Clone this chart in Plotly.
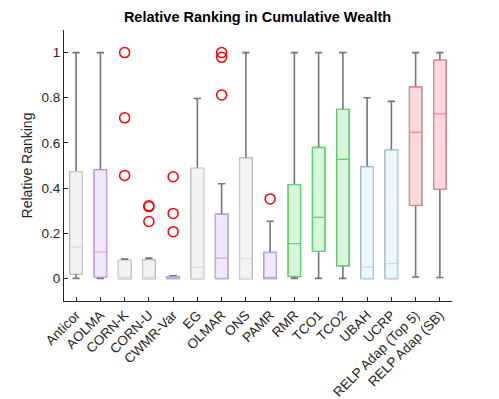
import plotly.graph_objects as go

categories = ['Anticor', 'AOLMA', 'CORN-K', 'CORN-U', 'CWMR-Var', 'EG', 'OLMAR', 'ONS',
              'PAMR', 'RMR', 'TCO1', 'TCO2', 'UBAH', 'UCRP',
              'RELP Adap (Top 5)', 'RELP Adap (SB)']
lower = [0.0, 0.0, 0.0, 0.0, 0.0, 0.0, 0.0, 0.0, 0.0, 0.0, 0.0, 0.0, 0.0, 0.0, 0.006, 0.004]
q1 = [0.021, 0.006, 0.0, 0.0, 0.0, 0.0, 0.0, 0.0, 0.0, 0.009, 0.12, 0.056, 0.0, 0.0, 0.324, 0.396]
median = [0.139, 0.117, 0.0, 0.0, 0.0, 0.049, 0.090, 0.087, 0.0, 0.154, 0.27, 0.527, 0.05, 0.065, 0.647, 0.729]
q3 = [0.472, 0.48, 0.079, 0.081, 0.007, 0.487, 0.284, 0.532, 0.114, 0.415, 0.579, 0.748, 0.493, 0.567, 0.847, 0.966]
upper = [1.0, 1.0, 0.086, 0.09, 0.012, 0.797, 0.419, 1.0, 0.253, 1.0, 1.0, 1.0, 0.8, 0.784, 1.0, 1.0]
groups = ['gray', 'purple', 'gray', 'gray', 'purple', 'gray', 'purple', 'gray',
          'purple', 'green', 'green', 'green', 'blue', 'blue', 'red', 'red']

outlier_cats = ['CORN-K', 'CORN-K', 'CORN-K', 'CORN-U', 'CORN-U', 'CORN-U',
                'CWMR-Var', 'CWMR-Var', 'CWMR-Var', 'OLMAR', 'OLMAR', 'OLMAR', 'PAMR']
outlier_vals = [1.0, 0.711, 0.456, 0.322, 0.318, 0.252,
                0.45, 0.288, 0.207, 1.0, 0.979, 0.812, 0.352]

palette = {
    'gray': ('#f3f3f3', '#d9d9d9'),
    'purple': ('#f2e8fc', '#c8a4f0'),
    'green': ('#d9f5dc', '#5fd46c'),
    'blue': ('#ecf7fc', '#a9dcee'),
    'red': ('#ffd9de', '#ff7f8e'),
}
whisker_col = '#767676'

fig = go.Figure()
for i, cat in enumerate(categories):
    fill, edge = palette[groups[i]]
    # whiskers underneath
    fig.add_trace(go.Box(
        x=[cat], q1=[q1[i]], median=[median[i]], q3=[q3[i]],
        lowerfence=[lower[i]], upperfence=[upper[i]],
        width=0.5, whiskerwidth=0.6, line=dict(color=whisker_col, width=1.6),
        fillcolor=fill, showlegend=False, hoverinfo='skip'
    ))
    # coloured box on top
    fig.add_trace(go.Box(
        x=[cat], q1=[q1[i]], median=[median[i]], q3=[q3[i]],
        lowerfence=[q1[i]], upperfence=[q3[i]],
        width=0.5, whiskerwidth=0, line=dict(color=edge, width=1.2),
        fillcolor=fill, showlegend=False
    ))

fig.add_trace(go.Scatter(
    x=outlier_cats, y=outlier_vals, mode='markers', showlegend=False,
    marker=dict(symbol='circle-open', color='#ff0000', size=10, line=dict(width=1.5))
))

axis_col = '#262626'
fig.update_layout(
    width=499, height=399,
    margin=dict(l=56, r=55, t=22, b=106),
    plot_bgcolor='white', paper_bgcolor='white',
    boxmode='overlay',
    font=dict(family='Liberation Sans, Arial, sans-serif', size=13.5, color=axis_col),
    title=dict(text='<b>Relative Ranking in Cumulative Wealth</b>', x=0.5, xanchor='center',
               y=0.977, yanchor='middle', font=dict(size=14.5, color='black')),
    xaxis=dict(
        type='category', categoryorder='array', categoryarray=categories,
        range=[-0.5, 15.5], tickangle=-45, showgrid=False, zeroline=False,
        showline=True, linecolor=axis_col, linewidth=1, automargin=False,
        ticks='inside', ticklen=4, tickcolor=axis_col,
    ),
    yaxis=dict(
        range=[-0.1, 1.1], tickvals=[0, 0.2, 0.4, 0.6, 0.8, 1],
        showgrid=False, zeroline=False, automargin=False,
        showline=True, linecolor=axis_col, linewidth=1,
        ticks='inside', ticklen=4, tickcolor=axis_col,
        title=dict(text='Relative Ranking', font=dict(size=14), standoff=5),
    ),
)

fig.write_html("out.html")
